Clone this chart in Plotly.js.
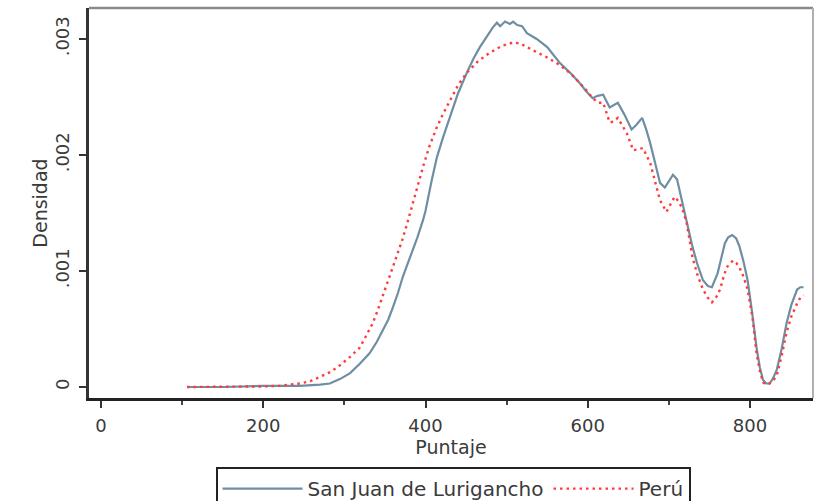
<!DOCTYPE html>
<html>
<head>
<meta charset="utf-8">
<script src="https://cdn.plot.ly/plotly-3.0.1.min.js"></script>
<style>html,body{margin:0;padding:0;background:#fff;}#chart{width:815px;height:501px;}</style>
</head>
<body>
<div id="chart"></div>
<script>
// Data
const sjlX = [106,150,200,245,270,282,295,307,319,331,340,347,354,360,366,372,378,384,390,397,400,407,414,422,430,440,451,459,467,475,483,488,492,498,504,508,513,519,525,537,550,558,566,578,590,598,606,612,619,627,637,645,654,660,667,672,677,683,689,695,700,705,710,713,718,722,729,735,742,748,753,760,765,769,773,778,783,787,792,797,803,808,812,816,820,824,828,833,839,845,851,858,862,866];
const sjlY = [0,0,0.00001,0.00001,0.00002,0.00003,0.00007,0.00012,0.00020,0.00029,0.00039,0.00049,0.00058,0.00069,0.00081,0.00095,0.00106,0.00118,0.00129,0.00144,0.00152,0.00176,0.00198,0.00216,0.00233,0.00253,0.00271,0.00283,0.00293,0.00302,0.00310,0.00314,0.00311,0.00315,0.00313,0.00315,0.00312,0.00311,0.00305,0.00300,0.00293,0.00286,0.00279,0.00271,0.00262,0.00255,0.00249,0.00251,0.00252,0.00241,0.00245,0.00235,0.00222,0.00226,0.00232,0.00222,0.00210,0.00193,0.00176,0.00172,0.00177,0.00183,0.00179,0.00170,0.00155,0.00144,0.00121,0.00106,0.00092,0.00087,0.00086,0.00098,0.00113,0.00124,0.00129,0.00131,0.00128,0.00121,0.00108,0.00092,0.00062,0.00034,0.00017,0.00006,0.00003,0.00003,0.00007,0.00015,0.00033,0.00055,0.00071,0.00084,0.00086,0.00086];

const peruX = [106,150,200,220,245,258,270,283,295,307,319,327,335,341,347,354,360,365,371,377,383,390,397,405,414,422,430,440,451,465,479,494,508,517,525,537,550,562,574,582,590,598,606,613,619,623,627,632,637,642,648,656,662,668,677,683,689,697,702,707,712,717,722,729,735,742,748,753,758,763,767,771,779,783,787,792,797,803,808,812,816,820,824,828,833,839,845,851,858,862,866];
const peruY = [0,0,0.000005,0.00001,0.00003,0.00005,0.00009,0.00013,0.00019,0.00026,0.00034,0.00044,0.00055,0.00066,0.00078,0.00091,0.00103,0.00113,0.00126,0.00140,0.00155,0.00173,0.00190,0.00208,0.00224,0.00236,0.00247,0.00260,0.00271,0.00281,0.00288,0.00294,0.00297,0.00296,0.00293,0.00289,0.00284,0.00279,0.00273,0.00268,0.00262,0.00256,0.00249,0.00245,0.00245,0.00236,0.00228,0.00229,0.00232,0.00226,0.00219,0.00204,0.00205,0.00206,0.00193,0.00177,0.00161,0.00151,0.00157,0.00164,0.00160,0.00153,0.00141,0.00112,0.00097,0.00084,0.00077,0.00073,0.00077,0.00084,0.00094,0.00103,0.00109,0.00107,0.00103,0.00095,0.00084,0.00060,0.00029,0.00014,0.00004,0.00002,0.00003,0.00005,0.00010,0.00027,0.00047,0.00061,0.00072,0.00077,0.00079];

const seriesNames = ['San Juan de Lurigancho', 'Perú'];
const xTickVals = [0,200,400,600,800];
const xTickText = ['0','200','400','600','800'];
const xMinorVals = [100,300,500,700];
const yTickVals = [0,0.001,0.002,0.003];
const yTickText = ['0','.001','.002','.003'];

const traces = [
  {x: sjlX, y: sjlY, name: seriesNames[0], type: 'scatter', mode: 'lines',
   line: {color: '#6e8ea4', width: 2.2}},
  {x: peruX, y: peruY, name: seriesNames[1], type: 'scatter', mode: 'lines',
   line: {color: '#ff3b3b', width: 2.4, dash: '2.5px,4px'}}
];

const layout = {
  width: 815, height: 501,
  margin: {l: 89, r: 2, t: 8, b: 103, pad: 0, autoexpand: false},
  paper_bgcolor: '#ffffff', plot_bgcolor: '#ffffff',
  font: {family: 'DejaVu Sans, sans-serif', size: 19, color: '#3a3a3a'},
  showlegend: true,
  xaxis: {
    range: [-14.8, 877.6], tickmode: 'array', tickvals: xTickVals, ticktext: xTickText,
    ticks: 'outside', ticklen: 7, tickwidth: 2, tickcolor: '#333', ticklabelstandoff: 2,
    showline: true, linecolor: '#222', linewidth: 3, showgrid: false, zeroline: false,
    minor: {tickvals: xMinorVals, ticks: 'outside', ticklen: 4, tickwidth: 2, tickcolor: '#444', showgrid: false},
    tickfont: {size: 18, color: '#3a3a3a'},
    title: {text: 'Puntaje', standoff: 0, font: {size: 19, color: '#3a3a3a'}}
  },
  yaxis: {
    range: [-0.0000948, 0.003267], tickmode: 'array', tickvals: yTickVals, ticktext: yTickText,
    tickangle: -90, ticks: 'outside', ticklen: 7, tickwidth: 2, tickcolor: '#333', ticklabelstandoff: 3,
    showline: true, linecolor: '#333', linewidth: 3, showgrid: false, zeroline: false,
    tickfont: {size: 18, color: '#3a3a3a'},
    title: {text: 'Densidad', standoff: 0, font: {size: 19, color: '#3a3a3a'}}
  },
  legend: {
    orientation: 'h', x: 0.5028, xanchor: 'center', y: -0.1772, yanchor: 'top',
    bordercolor: '#222', borderwidth: 2, bgcolor: '#ffffff',
    itemwidth: 80, font: {size: 20, color: '#3a3a3a'}
  },
  shapes: [
    {type: 'line', xref: 'paper', yref: 'paper', x0: 0, x1: 1, y0: 1, y1: 1, line: {color: '#8a8a8a', width: 2.5}},
    {type: 'line', xref: 'paper', yref: 'paper', x0: 1, x1: 1, y0: 0, y1: 1, line: {color: '#b0b0b0', width: 2}}
  ]
};

Plotly.newPlot('chart', traces, layout, {displayModeBar: false, staticPlot: true});
</script>
</body>
</html>
